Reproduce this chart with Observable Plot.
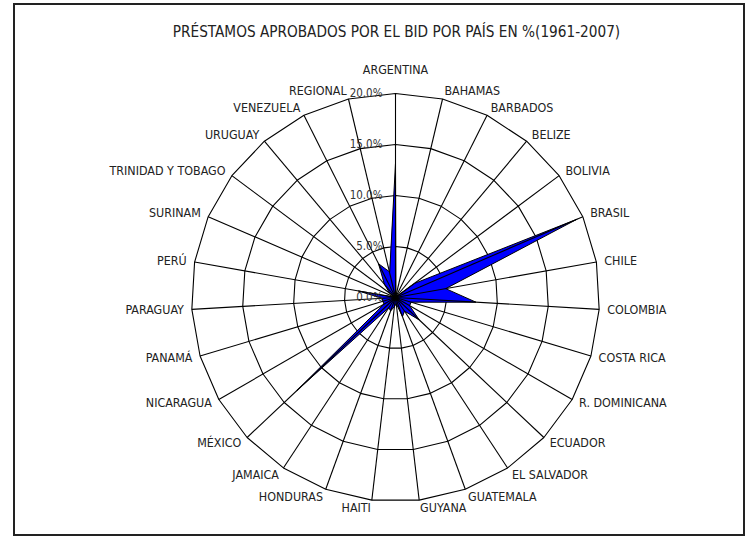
<!DOCTYPE html>
<html><head><meta charset="utf-8">
<script src="https://cdn.jsdelivr.net/npm/d3@7"></script>
<script src="https://cdn.jsdelivr.net/npm/@observablehq/plot@0.6"></script>
<style>
body{margin:0;background:#fff;width:749px;height:546px;position:relative;overflow:hidden;font-family:"Liberation Sans Narrow","Arial Narrow","DejaVu Sans Condensed",sans-serif;}
#frame{position:absolute;left:13px;top:3px;width:732px;height:533px;border:2px solid #222;box-sizing:border-box;}
#title{position:absolute;top:22px;left:22px;width:749px;text-align:center;font-size:15.2px;line-height:20px;color:#222;}
#chart{position:absolute;left:0;top:50px;}
</style></head><body>
<div id="frame"></div>
<div id="title">PRÉSTAMOS APROBADOS POR EL BID POR PAÍS EN %(1961-2007)</div>
<div id="chart"></div>
<script>
const countries = ["ARGENTINA","BAHAMAS","BARBADOS","BELIZE","BOLIVIA","BRASIL","CHILE","COLOMBIA","COSTA RICA","R. DOMINICANA","ECUADOR","EL SALVADOR","GUATEMALA","GUYANA","HAITI","HONDURAS","JAMAICA","MÉXICO","NICARAGUA","PANAMÁ","PARAGUAY","PERÚ","SURINAM","TRINIDAD Y TOBAGO","URUGUAY","VENEZUELA","REGIONAL"];
const shares = [13.1,0.2,0.3,0.1,2.3,19.4,5.0,7.9,1.6,1.6,3.2,1.6,2.0,0.6,0.9,1.4,1.2,13.3,1.3,1.3,1.3,3.7,0.1,0.7,1.7,3.7,2.6];
const ringTicks = [0,5,10,15,20];
const tickLabels = ["0.0%","5.0%","10.0%","15.0%","20.0%"];

const n = countries.length;
const maxR = 20;
const ang = i => i * 2 * Math.PI / n;
const pxPerUnit = 10.2;
const W = 749, H = 496, cx = 395, cy = 247;

const ringPts = [];
for (const t of ringTicks.filter(t => t > 0))
  for (let i = 0; i < n; i++) ringPts.push({ring: t, x: t*Math.sin(ang(i)), y: t*Math.cos(ang(i))});
const polyPts = shares.map((v,i) => ({x: v*Math.sin(ang(i)), y: v*Math.cos(ang(i))}));
const spokes = countries.map((c,i) => ({x2: maxR*Math.sin(ang(i)), y2: maxR*Math.cos(ang(i))}));
const lr = maxR + 8/pxPerUnit;
const labels = countries.map((c,i) => ({name: c, s: Math.sin(ang(i)), x: lr*Math.sin(ang(i)), y: lr*Math.cos(ang(i))}));
const font = `"Liberation Sans Narrow","Arial Narrow","DejaVu Sans Condensed",sans-serif`;

const chart = Plot.plot({
  width: W, height: H, margin: 0,
  x: {domain: [-cx/pxPerUnit, (W-cx)/pxPerUnit], range: [0, W], axis: null},
  y: {domain: [cy/pxPerUnit, -(H-cy)/pxPerUnit], range: [0, H], axis: null},
  style: {fontFamily: font, background: "transparent", overflow: "visible"},
  marks: [
    Plot.line(ringPts, {x: "x", y: "y", z: "ring", curve: "linear-closed", stroke: "#000", strokeWidth: 1.1}),
    Plot.line(polyPts, {x: "x", y: "y", curve: "linear-closed", fill: "#0000ff", stroke: "#000", strokeWidth: 1}),
    Plot.link(spokes, {x1: () => 0, y1: () => 0, x2: "x2", y2: "y2", stroke: "#000", strokeWidth: 1.1}),
    Plot.text(ringTicks, {x: () => 0, y: d => d, text: (d,i) => tickLabels[i], textAnchor: "end", dx: -13, fontSize: 11.5, fill: "#333"}),
    Plot.text(labels.filter(d => d.s > 0.01), {x: "x", y: "y", text: "name", textAnchor: "start", fontSize: 12.4, fill: "#222"}),
    Plot.text(labels.filter(d => d.s < -0.01), {x: "x", y: "y", text: "name", textAnchor: "end", fontSize: 12.4, fill: "#222"}),
    Plot.text(labels.filter(d => Math.abs(d.s) <= 0.01), {x: "x", y: "y", text: "name", textAnchor: "middle", dy: -15, fontSize: 12.4, fill: "#222"})
  ]
});
document.getElementById("chart").appendChild(chart);
</script>
</body></html>
